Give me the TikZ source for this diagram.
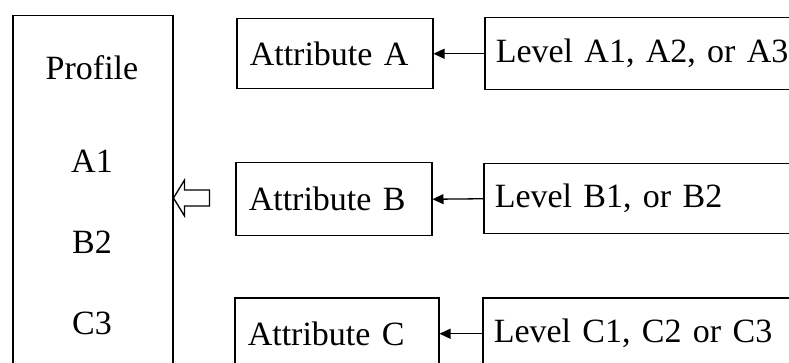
\documentclass[tikz,border=0pt]{standalone}
\usepackage{fontspec}
\setmainfont{Liberation Serif}[WordSpace=0.72]
\usetikzlibrary{arrows.meta}
\begin{document}
\begin{tikzpicture}[x=1pt,y=1pt,
  box/.style={draw, line width=1.5pt, anchor=north west, inner xsep=13pt, inner ysep=0pt, align=left,
    font=\fontsize{34}{40}\selectfont},
  txt/.style={anchor=base, inner sep=0pt, font=\fontsize{34}{40}\selectfont},
  arr/.style={line width=1.3pt, -{Triangle[length=11pt,width=10pt]}}]
\useasboundingbox (0,0) rectangle (789,-363);
\clip (0,0) rectangle (789,-363);
% profile column
\node[box, minimum width=160pt, minimum height=420pt, inner sep=0pt] (profile) at (12,-15) {};
\node[txt] (tprof) at (92,-80) {Profile};
\node[txt] (ta1) at (92,-173) {A1};
\node[txt] (tb2) at (92,-254) {B2};
\node[txt] (tc3) at (92,-334) {C3};
% attributes
\node[box, text width=170pt, minimum height=70pt] (attA) at (236,-18) {Attribute A};
\node[box, text width=170pt, minimum height=73pt] (attB) at (235,-162) {Attribute B};
\node[box, text width=178pt, minimum height=72pt] (attC) at (234,-297) {Attribute C};
% levels
\node[box, text width=300pt, minimum height=72pt, inner xsep=11pt] (levA) at (484,-17) {Level A1, A2, or A3};
\node[box, text width=300pt, minimum height=70pt, inner xsep=11pt] (levB) at (483,-163) {Level B1, or B2};
\node[box, text width=300pt, minimum height=72pt, inner xsep=11pt] (levC) at (482,-297) {Level C1, C2 or C3};
% connectors
\draw[arr] (levA.west) -- (attA.east);
\draw[arr] (levB.west) -- (attB.east);
\draw[arr] (levC.west) -- (attC.east);
% hollow block arrow to the profile
\coordinate (tip) at (profile.east |- 0,-198);
\draw[line width=1.3pt, line join=miter] (tip) -- ++(11,18) -- ++(0,-10) -- ++(25,0) -- ++(0,-16) -- ++(-25,0) -- ++(0,-10) -- cycle;
\end{tikzpicture}
\end{document}
